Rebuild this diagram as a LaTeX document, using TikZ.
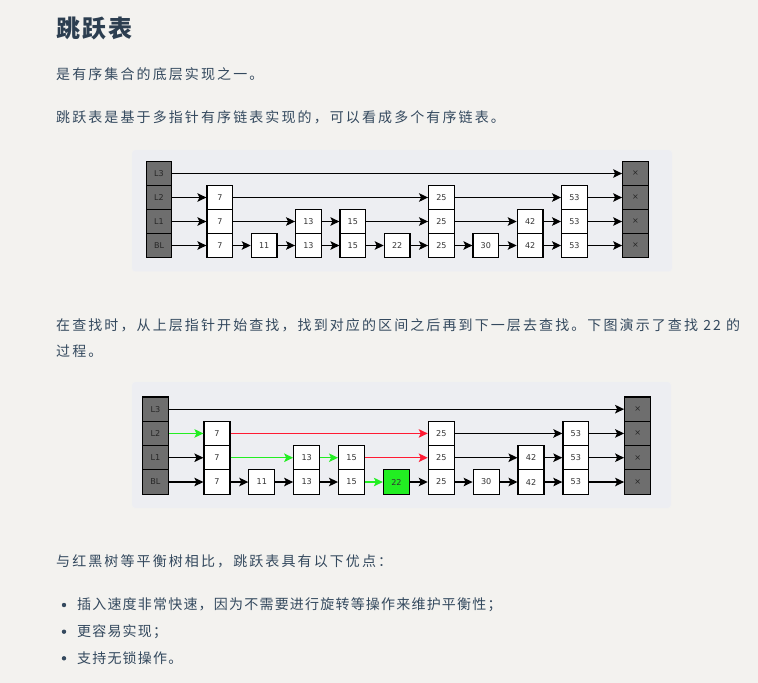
\documentclass[tikz,border=0pt]{standalone}
\usepackage{fontspec}
\usepackage{xcolor}
\usetikzlibrary{arrows.meta,positioning}
\newfontfamily\cjk[LetterSpace=15]{Noto Sans CJK SC}
\newfontfamily\cjklist[LetterSpace=8.6]{Noto Sans CJK SC}
\newfontfamily\cjkhead[LetterSpace=10]{Noto Sans CJK SC}
\newfontfamily\diagfont{DejaVu Sans}
\definecolor{page-bg}{HTML}{F3F2EF}
\definecolor{panel-bg}{HTML}{EDEEF2}
\definecolor{body-text}{HTML}{34495E}
\definecolor{title-text}{HTML}{2C3E50}
\definecolor{end-gray}{HTML}{6E6E6E}
\definecolor{hit-green}{HTML}{22EE22}
\definecolor{pass-red}{HTML}{FF1A33}
\tikzset{
    list-node/.style = {draw=black, line width=1.2pt, fill=white, rectangle, minimum width=25.6pt, minimum height=24pt, inner sep=0pt, text=black!80, font=\diagfont\fontsize{8}{9}\selectfont},
    end-node/.style = {list-node, fill=end-gray, text=black!85},
    link-arrow/.style = {line width=1.3pt, -{Stealth[length=9pt,width=8.5pt,inset=2pt]}},
    link-plain/.style = {},
    link-found/.style = {},
    link-passed/.style = {},
    panel/.style = {fill=panel-bg, draw=black!5, rounded corners=3pt},
    para-text/.style = {anchor=base west, inner sep=0pt, text=body-text, font=\cjk\fontsize{14}{16}\selectfont},
    list-text/.style = {para-text, font=\cjklist\fontsize{14}{16}\selectfont},
    bullet-dot/.style = {circle, fill=body-text, inner sep=0pt, minimum size=4.4pt},
}
\newcommand{\skiplist}[5]{%
  \begin{scope}[shift={(#2,#3)}, scale=#4, every node/.append style={transform shape}]
    \foreach \lvl/\lab [count=\r from 0] in {3/L3, 2/L2, 1/L1, 0/BL} {
      \node[end-node] (#1-head-\lvl) at (13, {12+24*\r}) {\lab};
      \node[end-node] (#1-tail-\lvl) at (489.5, {12+24*\r}) {×};
    }
    \foreach \v/\k/\t/\f in {7/0/2/white, 11/1/0/white, 13/2/1/white, 15/3/1/white, 22/4/0/#5, 25/5/2/white, 30/6/0/white, 42/7/1/white, 53/8/2/white}
      \foreach \lvl in {0,...,\t}
        \node[list-node, fill=\f] (#1-\v-\lvl) at ({73.8+44.33*\k}, {12+24*(3-\lvl)}) {\v};
  \end{scope}}
\newcommand{\skiplinks}[1]{%
  \foreach \a/\b/\lvl/\s in {head/tail/3/link-plain,
      head/7/2/link-found, 7/25/2/link-passed, 25/53/2/link-plain, 53/tail/2/link-plain,
      head/7/1/link-plain, 7/13/1/link-found, 13/15/1/link-found, 15/25/1/link-passed, 25/42/1/link-plain, 42/53/1/link-plain, 53/tail/1/link-plain,
      head/7/0/link-plain, 7/11/0/link-plain, 11/13/0/link-plain, 13/15/0/link-plain, 15/22/0/link-found, 22/25/0/link-plain, 25/30/0/link-plain, 30/42/0/link-plain, 42/53/0/link-plain, 53/tail/0/link-plain}
    \draw[link-arrow, \s] (#1-\a-\lvl.east) -- (#1-\b-\lvl.west);}

\begin{document}
\begin{tikzpicture}[x=1pt, y=-1pt]
\useasboundingbox (0,0) rectangle (758,683);
\fill[page-bg] (0,0) rectangle (758,683);

\node[para-text, text=title-text, font=\cjkhead\bfseries\fontsize{24}{28}\selectfont] (title) at (56,37.5) {跳跃表};
\node[para-text] (intro) at (56,79.3) {是有序集合的底层实现之一。};
\node[para-text] (basis) at (56,122.8) {跳跃表是基于多指针有序链表实现的，可以看成多个有序链表。};

\fill[panel] (132,150) rectangle (672,271.5);
\skiplist{a}{146}{161.5}{1}{white}
\skiplinks{a}

\node[para-text] (search) at (56,330.6) {在查找时，从上层指针开始查找，找到对应的区间之后再到下一层去查找。下图演示了查找 22 的};
\node[para-text] (search-end) at (56,356.6) {过程。};

\fill[panel] (132,382) rectangle (671,508);
\skiplist{b}{142.3}{397}{1.012}{hit-green}
\begin{scope}[link-found/.style={draw=hit-green}, link-passed/.style={draw=pass-red}]
\skiplinks{b}
\end{scope}

\node[para-text] (compare) at (56,566.1) {与红黑树等平衡树相比，跳跃表具有以下优点：};
\node[bullet-dot] (dot1) at (64,605) {};
\node[bullet-dot] (dot2) at (64,631.7) {};
\node[bullet-dot] (dot3) at (64,658.3) {};
\node[list-text, right=10.5pt of dot1] (merit1) {插入速度非常快速，因为不需要进行旋转等操作来维护平衡性；};
\node[list-text, right=10.5pt of dot2] (merit2) {更容易实现；};
\node[list-text, right=10.5pt of dot3] (merit3) {支持无锁操作。};
\end{tikzpicture}
\end{document}
